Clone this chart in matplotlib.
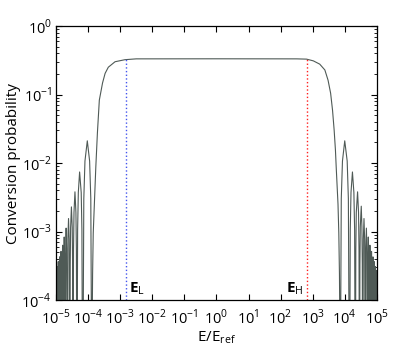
import numpy as np
import matplotlib
matplotlib.use("Agg")
import matplotlib.pyplot as plt
from matplotlib.ticker import FixedFormatter

plt.rcParams['font.family'] = ['Open Sans', 'DejaVu Sans']
plt.rcParams['mathtext.fontset'] = 'custom'
plt.rcParams['mathtext.rm'] = 'Open Sans'
plt.rcParams['mathtext.bf'] = 'Open Sans:bold'

# curve, in log10 units (E/Eref , probability)
# low energy side : oscillating lobes then the rise to the plateau
logE_low = [-5.02, -5.011, -5.002, -4.994, -4.985,
            -4.976, -4.967, -4.959, -4.95,
            -4.94, -4.93, -4.92, -4.91,
            -4.90, -4.89, -4.88, -4.87,
            -4.857, -4.845, -4.833, -4.82,
            -4.807, -4.795, -4.783, -4.77,
            -4.757, -4.745, -4.733, -4.72,
            -4.70, -4.685, -4.67, -4.65,
            -4.63, -4.61, -4.59, -4.57,
            -4.557, -4.545, -4.52, -4.495, -4.483, -4.47,
            -4.455, -4.44, -4.41, -4.38, -4.365, -4.35,
            -4.327, -4.305, -4.265, -4.215, -4.193, -4.17,
            -4.134, -4.098, -4.025, -3.953, -3.916, -3.88,
            -3.87, -3.86, -3.84, -3.76, -3.71, -3.65, -3.55, -3.47, -3.37,
            -3.16, -2.85, -2.5]
logP_low = [-6, -3.87, -3.57, -3.87, -6,
            -3.81, -3.51, -3.81, -6,
            -3.74, -3.44, -3.74, -6,
            -3.67, -3.37, -3.67, -6,
            -3.59, -3.29, -3.59, -6,
            -3.50, -3.20, -3.50, -6,
            -3.38, -3.08, -3.38, -6,
            -3.25, -2.95, -3.25, -6,
            -3.11, -2.81, -3.11, -6,
            -3.49, -2.94, -2.64, -2.94, -3.49, -6,
            -3.27, -2.72, -2.42, -2.72, -3.27, -6,
            -2.98, -2.43, -2.13, -2.43, -2.98, -6,
            -2.52, -1.97, -1.675, -1.97, -2.52, -6,
            -4.22, -3.62, -3.02, -2.06, -1.56, -1.08, -0.83, -0.69, -0.60,
            -0.52, -0.49, -0.478]

# high energy side : fall from the plateau then the lobes
logE_high = [0.0, 2.5, 2.81, 3.02, 3.22, 3.38, 3.48, 3.56, 3.62, 3.67, 3.71,
             3.735, 3.79, 3.815, 3.835, 3.845, 3.855,
             3.892, 3.929, 4.00, 4.076, 4.113, 4.15,
             4.172, 4.195, 4.24, 4.285, 4.308, 4.33,
             4.345, 4.36, 4.40, 4.43, 4.445, 4.46,
             4.473, 4.485, 4.515, 4.535, 4.547, 4.56,
             4.58, 4.60, 4.62, 4.64,
             4.655, 4.675, 4.69, 4.71,
             4.722, 4.735, 4.748, 4.76,
             4.772, 4.785, 4.798, 4.81,
             4.822, 4.835, 4.848, 4.86,
             4.87, 4.88, 4.89, 4.90,
             4.91, 4.92, 4.93, 4.94,
             4.949, 4.957, 4.966, 4.975,
             4.984, 4.992, 5.0, 5.01]
logP_high = [-0.477, -0.478, -0.482, -0.507, -0.555, -0.64, -0.79, -0.98, -1.23, -1.52, -1.81,
             -2.07, -2.6, -3.02, -3.62, -4.22, -6,
             -2.52, -1.97, -1.675, -1.97, -2.52, -6,
             -2.98, -2.43, -2.13, -2.43, -2.98, -6,
             -3.27, -2.72, -2.42, -2.72, -3.27, -6,
             -3.48, -2.93, -2.63, -2.93, -3.48, -6,
             -3.11, -2.81, -3.11, -6,
             -3.25, -2.95, -3.25, -6,
             -3.38, -3.08, -3.38, -6,
             -3.50, -3.20, -3.50, -6,
             -3.59, -3.29, -3.59, -6,
             -3.67, -3.37, -3.67, -6,
             -3.74, -3.44, -3.74, -6,
             -3.81, -3.51, -3.81, -6,
             -3.87, -3.57, -3.87, -6]

E_L = 1.5e-3
E_H = 6.5e2
P_plateau = 0.333

x_exp = list(range(-5, 6))
y_exp = list(range(-4, 1))

E = 10 ** np.array(logE_low + logE_high)
P = 10 ** np.array(logP_low + logP_high)

fig = plt.figure(figsize=(4.15, 3.58), dpi=100)
ax = fig.add_axes([0.135, 0.162, 0.773, 0.765])

ax.plot(E, P, color='#4f5a56', lw=0.8)
ax.plot([E_L, E_L], [1e-4, P_plateau], color='#4455ee', lw=1.0, ls=':')
ax.plot([E_H, E_H], [1e-4, P_plateau], color='#ff2020', lw=1.0, ls=':')

ax.set_xscale('log')
ax.set_yscale('log')
ax.set_xlim(1e-5, 1e5)
ax.set_ylim(1e-4, 1e0)
ax.set_xticks([10.0 ** k for k in x_exp])
ax.set_yticks([10.0 ** k for k in y_exp])
ax.xaxis.set_major_formatter(FixedFormatter([r'$10^{%d}$' % k for k in x_exp]))
ax.yaxis.set_major_formatter(FixedFormatter([r'$10^{%d}$' % k for k in y_exp]))

ax.tick_params(which='both', direction='in', top=True, right=True, labelsize=10.5)
ax.tick_params(axis='x', which='major', pad=6)
ax.tick_params(axis='y', which='major', pad=3)
ax.tick_params(which='major', length=4)
ax.tick_params(which='minor', length=2)
for s in ax.spines.values():
    s.set_linewidth(0.9)

ax.text(1.85e-3, 1.12e-4, r'$\mathbf{E}_{\mathrm{L}}$', fontsize=11, ha='left', va='bottom')
ax.text(5.3e2, 1.12e-4, r'$\mathbf{E}_{\mathrm{H}}$', fontsize=11, ha='right', va='bottom')

ax.set_xlabel(r'E/E$_{\mathrm{ref}}$', fontsize=11, labelpad=1)
ax.set_ylabel('Conversion probability', fontsize=11, labelpad=0)

fig.savefig('out.png', dpi=100)
